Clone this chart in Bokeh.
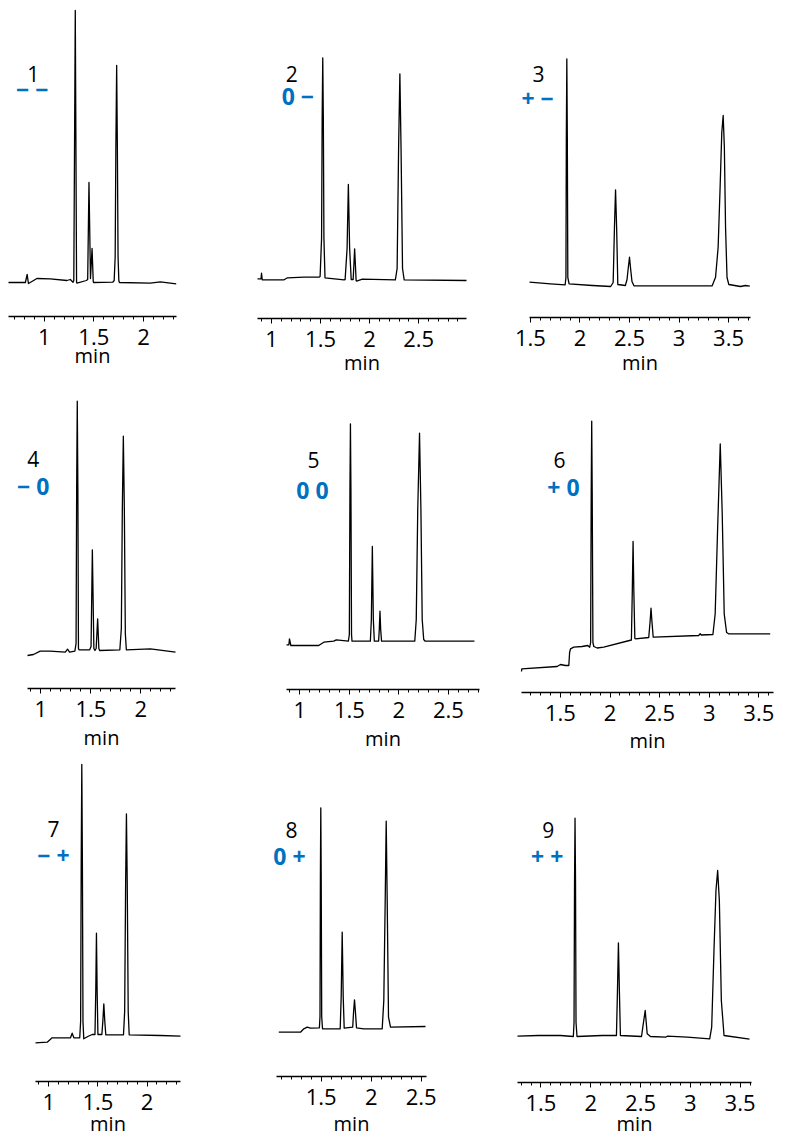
import numpy as np
from bokeh.plotting import figure
from bokeh.models import Range1d, LinearAxis, FixedTicker, NumeralTickFormatter, Label
from bokeh.layouts import column, row
from bokeh.embed import file_html
from bokeh.resources import INLINE

# ---------------- data (retention time in min, detector signal in a.u.) ----------------
T1 = [0.64, 0.81, 0.828, 0.841, 0.876, 0.926, 1.06, 1.229, 1.263, 1.29, 1.298, 1.313, 1.326, 1.33,
      1.424, 1.438, 1.451, 1.466, 1.482, 1.494, 1.498, 1.69, 1.705, 1.715, 1.722, 1.73, 1.737, 1.744,
      1.752, 1.758, 2.07, 2.17, 2.33]
S1 = [34, 34, 42, 33, 35, 38, 37.7, 36, 37, 34.3, 36, 306, 34, 33.3,
      36, 37, 134, 38, 68, 35, 34, 34.3, 36, 60, 170, 251, 170, 60,
      36, 34, 33.3, 34.7, 32.7]

T2 = [0.857, 0.893, 0.898, 0.905, 1.128, 1.162, 1.332, 1.484, 1.495, 1.51, 1.516, 1.522, 1.528, 1.534,
      1.545, 1.739, 1.75, 1.77, 1.783, 1.796, 1.812, 1.832, 1.84, 1.847, 1.854, 1.862, 1.868, 1.925,
      2.262, 2.28, 2.295, 2.308, 2.32, 2.335, 2.352, 2.987]
S2 = [39.7, 39.7, 45.3, 38.7, 38.7, 40.7, 41.3, 41.3, 42, 80, 200, 260.7, 200, 80,
      40.7, 38.7, 39, 70, 134, 70, 39, 39, 55, 69.7, 55, 38, 37.3, 39.3,
      38.7, 50, 170, 244.7, 170, 50, 38.7, 38]

T3 = [1.49, 1.702, 1.85, 1.858, 1.862, 1.867, 1.872, 1.877, 1.89, 2.125, 2.31, 2.335, 2.348, 2.359,
      2.37, 2.382, 2.458, 2.475, 2.488, 2.5, 2.512, 2.525, 2.545, 3.335, 3.369, 3.395, 3.415, 3.432,
      3.446, 3.458, 3.47, 3.485, 3.503, 3.621, 3.671, 3.715]
S3 = [35.3, 33.7, 32.7, 40, 180, 258.7, 180, 40, 33.7, 32, 31, 35, 90, 127.7,
      90, 33, 32, 38, 50, 60.3, 48, 36, 31.7, 31.7, 40.3, 70, 130, 185,
      202, 170, 90, 40, 33, 31, 32, 31.3]

T4 = [0.866, 0.926, 0.993, 1.093, 1.244, 1.267, 1.287, 1.34, 1.352, 1.358, 1.364, 1.37, 1.376, 1.381,
      1.488, 1.502, 1.515, 1.53, 1.541, 1.553, 1.568, 1.58, 1.588, 1.79, 1.805, 1.815, 1.825, 1.835,
      1.845, 1.855, 2.096, 2.347]
S4 = [33, 34, 37.3, 37.3, 36.3, 39.3, 36.3, 37.3, 45, 200, 287.3, 200, 40, 38.7,
      38.7, 42, 138.7, 40, 38, 40, 69.7, 40, 38, 38.7, 60, 180, 252.3, 180,
      55, 38.7, 39.7, 36.3]

T5 = [0.866, 0.89, 0.896, 0.91, 1.191, 1.242, 1.342, 1.369, 1.49, 1.5, 1.506, 1.511, 1.516, 1.522,
      1.527, 1.712, 1.722, 1.732, 1.742, 1.752, 1.795, 1.802, 1.809, 1.816, 1.825, 2.16, 2.175, 2.19,
      2.208, 2.222, 2.235, 2.25, 2.265, 2.762]
S5 = [44.7, 44.7, 50.7, 44, 44, 47.3, 48.3, 49.7, 48.3, 55, 200, 265.7, 200, 55,
      48.3, 48.3, 70, 143, 70, 48.3, 48.3, 60, 78.3, 60, 48.3, 48.3, 70, 180,
      256.3, 180, 70, 50, 48.3, 48.3]

T6 = [1.107, 1.11, 1.466, 1.5, 1.55, 1.584, 1.592, 1.601, 1.634, 1.718, 1.775, 1.795, 1.804, 1.81,
      1.815, 1.82, 1.827, 1.836, 1.87, 1.936, 2.215, 2.224, 2.232, 2.24, 2.25, 2.255, 2.39, 2.403,
      2.413, 2.423, 2.435, 2.44, 2.893, 2.909, 2.92, 3.037, 3.06, 3.084, 3.111, 3.131, 3.151, 3.175,
      3.195, 3.615]
S6 = [21, 23.7, 26, 28, 27, 27, 40, 43.7, 45.3, 46, 47, 45.3, 50, 200,
      271.3, 200, 50, 46, 44.5, 45.3, 52.5, 100, 151, 100, 54, 53.7, 55, 70,
      84.3, 70, 55.3, 55.3, 57, 58.7, 57.5, 58, 78.7, 162, 248.7, 178.7, 78.7, 60,
      58.7, 58.7]

T7 = [0.865, 0.984, 1.034, 1.221, 1.238, 1.255, 1.315, 1.324, 1.33, 1.336, 1.342, 1.348, 1.356, 1.397,
      1.441, 1.47, 1.478, 1.485, 1.492, 1.5, 1.54, 1.55, 1.56, 1.57, 1.58, 1.76, 1.772, 1.782,
      1.79, 1.798, 1.808, 1.818, 2.136, 2.34]
S7 = [38.7, 39.3, 43.7, 43.7, 48.3, 43.7, 43.7, 60, 220, 317, 220, 60, 42.7, 45,
      47, 47, 90, 148.3, 90, 47, 47, 60, 77.7, 60, 46.7, 46.7, 70, 200,
      267.7, 200, 70, 46.7, 46, 45.3]

T8 = [1.076, 1.293, 1.326, 1.36, 1.393, 1.482, 1.488, 1.492, 1.496, 1.5, 1.505, 1.513, 1.69, 1.7,
      1.71, 1.72, 1.73, 1.815, 1.824, 1.833, 1.842, 1.853, 1.926, 2.11, 2.126, 2.14, 2.15, 2.16,
      2.173, 2.193, 2.543]
S8 = [44.3, 44.3, 47.7, 49.3, 48.3, 48.7, 60, 200, 268.7, 200, 60, 47.7, 47.7, 80,
      144.3, 80, 48.3, 49.3, 65, 76.7, 65, 48.7, 47.7, 47.7, 76, 176, 255.3, 176,
      59.3, 49.3, 50]

T9 = [1.264, 1.476, 1.694, 1.825, 1.832, 1.837, 1.842, 1.847, 1.852, 1.862, 2.114, 2.258, 2.268, 2.278,
      2.288, 2.298, 2.51, 2.523, 2.547, 2.567, 2.6, 2.752, 2.769, 2.97, 3.195, 3.215, 3.238, 3.258,
      3.275, 3.292, 3.312, 3.339, 3.595]
S9 = [46.3, 47, 47, 46, 60, 200, 264.3, 200, 60, 46, 47, 47, 90, 139.7,
      90, 47, 46, 55.3, 72, 48.7, 46, 45.3, 46.3, 45.3, 43.7, 55.3, 132, 192,
      212, 182, 82, 47, 43.3]

TRACES_T = [T1, T2, T3, T4, T5, T6, T7, T8, T9]
TRACES_S = [S1, S2, S3, S4, S5, S6, S7, S8, S9]

PANEL_NUMBERS = ["1", "2", "3", "4", "5", "6", "7", "8", "9"]
CODES = ["\u2212 \u2212", "0 \u2212", "+ \u2212", "\u2212 0", "0 0", "+ 0", "\u2212 +", "0 +", "+ +"]
MAJOR_TICKS = [1, 1.5, 2, 2.5, 3, 3.5]
X_LABEL = "min"

# ---------------- layout / styling ----------------
# extent of each time axis (min)
AXIS_SPAN = [(0.64, 2.333), (0.857, 2.987), (1.49, 3.722),
             (0.866, 2.347), (0.866, 2.813), (1.107, 3.648),
             (0.865, 2.34), (1.053, 2.553), (1.264, 3.615)]
Y_RANGES = [(-62, 316), (-60, 318), (-61, 317),
            (-66, 310), (-65, 311), (-62, 314),
            (-55, 327), (-60, 322), (-54, 328)]
COL_W = [250, 260, 275]
ROW_H = [378, 376, 382]
# pixel gap between figure edge and axis ends (left, right)
GAPS = [(8, 74), (7, 44), (19, 35),
        (27, 75), (36, 31), (11, 12),
        (35, 70), (26, 84), (7, 34)]
LABEL_STANDOFF = [-6, -1, 0, 4, 4, 3, -3, 2, -4]
NUM_POS = [(0.889, 243), (1.207, 245), (1.581, 244),
           (0.923, 230), (1.138, 230), (1.49, 233),
           (1.048, 253), (1.203, 247), (1.574, 253)]
CODE_POS = [(0.879, 228), (1.268, 223), (1.571, 220),
            (0.923, 203), (1.128, 200), (1.53, 206),
            (1.048, 227), (1.183, 221), (1.563, 227)]

FONT = "Open Sans"
BLUE = "#0070C0"


def make_panel(i):
    r, c = divmod(i, 3)
    x0, x1 = AXIS_SPAN[i]
    gl, gr = GAPS[i]
    w = COL_W[c]
    k = (w - gl - gr) / (x1 - x0)          # px per minute
    xr = Range1d(x0 - gl / k, x1 + gr / k)
    p = figure(width=w, height=ROW_H[r],
               x_range=xr, y_range=Range1d(*Y_RANGES[i]),
               output_backend="svg", toolbar_location=None,
               x_axis_location=None, y_axis_location=None,
               min_border_left=0, min_border_right=0,
               min_border_top=0, min_border_bottom=0)
    p.outline_line_color = None
    p.background_fill_color = "white"
    p.border_fill_color = "white"
    p.grid.visible = False

    majors = [t for t in MAJOR_TICKS if x0 <= t <= x1]
    minors = [round(v, 1) for v in np.arange(0.1, 4.0, 0.1) if x0 <= v <= x1]
    ax = LinearAxis(fixed_location=0, bounds=(x0, x1),
                    ticker=FixedTicker(ticks=majors, minor_ticks=minors),
                    formatter=NumeralTickFormatter(format="0.[0]"),
                    axis_label=X_LABEL)
    ax.axis_line_color = "black"
    ax.axis_line_width = 1.5
    ax.major_tick_line_color = "black"
    ax.major_tick_in = 0
    ax.major_tick_out = 5
    ax.minor_tick_line_color = "black"
    ax.minor_tick_in = 0
    ax.minor_tick_out = 3
    ax.major_label_text_font = FONT
    ax.major_label_text_font_size = "22px"
    ax.major_label_text_color = "black"
    ax.major_label_standoff = 7
    ax.axis_label_text_font = FONT
    ax.axis_label_text_font_size = "20px"
    ax.axis_label_text_font_style = "normal"
    ax.axis_label_text_color = "black"
    ax.axis_label_standoff = LABEL_STANDOFF[i]
    p.add_layout(ax, "below")

    p.line(TRACES_T[i], TRACES_S[i], line_color="black", line_width=1.3, line_join="round")

    nx, ny = NUM_POS[i]
    p.add_layout(Label(x=nx, y=ny, text=PANEL_NUMBERS[i], text_font=FONT,
                       text_font_size="21px", text_color="black",
                       text_align="center", text_baseline="middle"))
    cx, cy = CODE_POS[i]
    p.add_layout(Label(x=cx, y=cy, text=CODES[i], text_font=FONT,
                       text_font_size="23px", text_font_style="bold", text_color=BLUE,
                       text_align="center", text_baseline="middle"))
    return p


panels = [make_panel(i) for i in range(9)]
layout = column(row(*panels[0:3], spacing=0),
                row(*panels[3:6], spacing=0),
                row(*panels[6:9], spacing=0), spacing=0)

open("out.html", "w").write(file_html(layout, INLINE))
